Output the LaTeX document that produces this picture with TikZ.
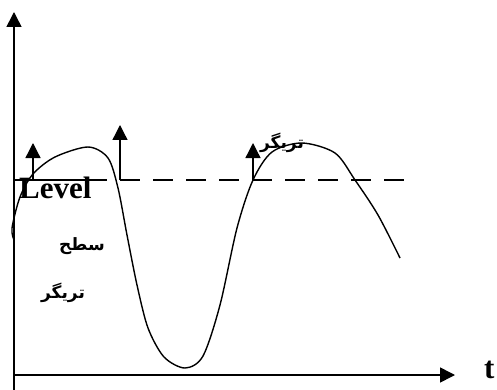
\documentclass[tikz,border=0pt]{standalone}
\usepackage{fontspec}
\setmainfont{Liberation Serif}
\newfontfamily\arabicfont[Script=Arabic]{DejaVu Sans}
\TeXXeTstate=1
\usetikzlibrary{arrows.meta}
\tikzset{
  axis/.style={line width=1.6pt, -{Triangle[width=15pt,length=15pt]}},
  trig/.style={line width=1.3pt, -{Triangle[width=15pt,length=15pt]}},
  level/.style={line width=1.5pt},
  wave/.style={line width=1.4pt},
  latin/.style={font=\bfseries\fontsize{31}{33}\selectfont, inner sep=0pt},
  farsi/.style={font=\arabicfont\bfseries\fontsize{17}{19}\selectfont, inner sep=0pt}
}
\begin{document}
\begin{tikzpicture}[x=1pt,y=-1pt]
  \useasboundingbox (0,0) rectangle (497,390);

  % axes
  \coordinate (O) at (14,375);
  \coordinate (ybot) at (14,390);
  \coordinate (ytop) at (14,12);
  \coordinate (xend) at (455,375);
  \draw[axis] (ybot) -- (ytop);
  \draw[axis] (O) -- (xend);
  \node[latin, anchor=base west] (tlab) at (484,378) {t};

  % trigger level
  \coordinate (lvlA) at (14,180);
  \coordinate (lvlB) at (107,180);
  \coordinate (lvlC) at (120,180);
  \coordinate (lvlD) at (408,180);
  \draw[level] (lvlA) -- (lvlB);
  \draw[level, dash pattern=on 20pt off 13pt] (lvlC) -- (lvlD);

  % signal
  \draw[wave] plot[smooth, tension=0.5] coordinates {
    (14,240) (12,228) (20,197) (33,174) (55,157) (88,147)
    (108,158) (118,188) (127,235) (137,285) (148,328) (164,357) (185,368)
    (203,356) (220,305) (237,228) (253,180)
    (272,152) (302,143) (335,153) (355,180)
    (378,215) (400,258)};

  % trigger points
  \coordinate (t1) at (33,180);
  \coordinate (t2) at (120,180);
  \coordinate (t3) at (253,181);
  \coordinate (t1e) at (33,143);
  \coordinate (t2e) at (120,125);
  \coordinate (t3e) at (253,143);
  \draw[trig] (t1) -- (t1e);
  \draw[trig] (t2) -- (t2e);
  \draw[trig] (t3) -- (t3e);

  % labels
  \node[latin, anchor=base west] (lvl) at (19,198) {Level};
  \node[farsi] (sath) at (82,246) {\beginR سطح\endR};
  \node[farsi] (trigA) at (63,293) {\beginR تریگر\endR};
  \node[farsi] (trigB) at (282,143) {\beginR تریگر\endR};
\end{tikzpicture}
\end{document}
